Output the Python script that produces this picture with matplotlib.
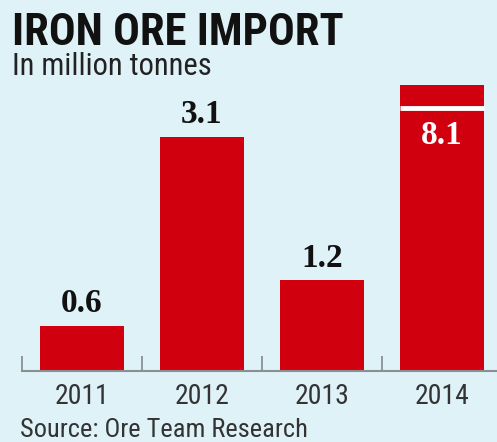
import numpy as np
import matplotlib
matplotlib.use('Agg')
import matplotlib.pyplot as plt

# Data
years = ['2011', '2012', '2013', '2014']
imports = [0.6, 3.1, 1.2, 8.1]   # million tonnes

BG = '#dff2f8'
RED = '#d0000f'
AXIS_TOP = 3.79      # axis is broken, tallest bar is clipped
BREAK_AT = 3.48

COND = ['Roboto Condensed', 'Liberation Sans Narrow', 'DejaVu Sans']
SLAB = ['Roboto Slab', 'Liberation Serif', 'DejaVu Serif']
plt.rcParams['font.family'] = COND

fig = plt.figure(figsize=(4.97, 4.42), dpi=100, facecolor=BG)
ax = fig.add_axes([22 / 497, 71 / 442, 475 / 497, 286 / 442])
ax.set_facecolor(BG)

x = np.arange(len(years))
bars = ax.bar(x, imports, width=0.70, color=RED, zorder=2)
ax.set_xlim(-0.5, 3.46)
ax.set_ylim(0, AXIS_TOP)

# value labels
for xi, v in zip(x, imports):
    if v > AXIS_TOP:
        ax.plot([xi - 0.35, xi + 0.35], [BREAK_AT, BREAK_AT], color='white', lw=3.5,
                solid_capstyle='butt', zorder=3)
        ax.annotate(f'{v:.1f}', (xi, BREAK_AT), xytext=(0, -8), textcoords='offset points',
                    ha='center', va='top', color='white', fontsize=24, fontweight='bold',
                    family=SLAB, zorder=4)
    else:
        ax.annotate(f'{v:.1f}', (xi, v), xytext=(0, 5), textcoords='offset points',
                    ha='center', va='bottom', color='#111111', fontsize=24, fontweight='bold',
                    family=SLAB)

for s in ['top', 'right', 'left']:
    ax.spines[s].set_visible(False)
ax.spines['bottom'].set_color('#8a8f92')
ax.spines['bottom'].set_linewidth(1.5)
ax.set_yticks([])
ax.set_xticks(x)
ax.set_xticklabels(years, fontsize=20, color='#333333')
ax.tick_params(axis='x', which='major', length=0, pad=9)
ax.set_xticks(np.arange(-0.5, 3.5, 1.0), minor=True)
ax.tick_params(axis='x', which='minor', direction='in', length=11, width=1.3, color='#8a8f92')

fig.text(12 / 497, 1 - 45 / 442, 'IRON ORE IMPORT', fontsize=32, fontweight='bold',
         color='#111111', va='baseline')
fig.text(12 / 497, 1 - 75 / 442, 'In million tonnes', fontsize=22, color='#222222', va='baseline')
fig.text(20 / 497, 1 - 437 / 442, 'Source: Ore Team Research', fontsize=19, color='#333333',
         va='baseline')

fig.savefig('out.png', dpi=100, facecolor=BG)
